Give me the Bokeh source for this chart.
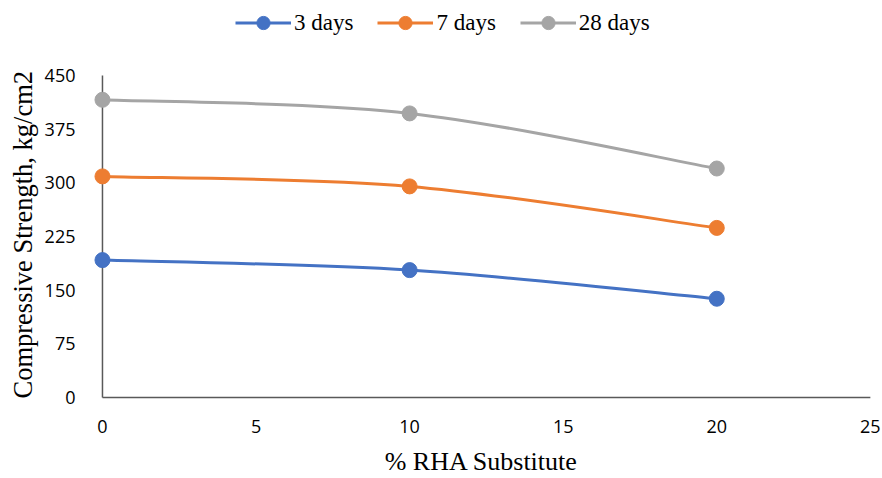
from bokeh.plotting import figure
from bokeh.models import Range1d, Legend, LegendItem, FixedTicker, Title
from bokeh.embed import file_html
from bokeh.resources import INLINE

# data
rha = [0, 10, 20]
days3 = [192, 178, 138]
days7 = [309, 295, 237]
days28 = [416, 397, 320]
series_names = ["3 days", "7 days", "28 days"]
colors = ["#4472C4", "#ED7D31", "#A5A5A5"]
x_ticks = [0, 5, 10, 15, 20, 25]
y_ticks = [0, 75, 150, 225, 300, 375, 450]

p = figure(frame_width=790, frame_height=397, min_border_left=86, min_border_right=6,
           min_border_top=5, min_border_bottom=76,
           x_range=Range1d(-0.52, 25.2), y_range=Range1d(-7, 547.8),
           output_backend="svg", toolbar_location=None)
p.outline_line_color = None
p.grid.visible = False
p.background_fill_color = "white"

for ax in (p.xaxis, p.yaxis):
    ax.axis_line_color = None
    ax.major_tick_line_color = None
    ax.minor_tick_line_color = None
    ax.major_label_text_font = "Open Sans"
    ax.major_label_text_font_size = "18px"
    ax.major_label_text_color = "#000000"
    ax.axis_label_text_font = "Liberation Serif"
    ax.axis_label_text_font_style = "normal"
    ax.axis_label_text_color = "#000000"

p.xaxis.axis_label_text_font_size = "26px"
p.xaxis.ticker = FixedTicker(ticks=x_ticks)
p.yaxis.ticker = FixedTicker(ticks=y_ticks)
p.xaxis.axis_label = "% RHA Substitute"
p.xaxis.major_label_standoff = 11
p.xaxis.axis_label_standoff = 11
p.yaxis.major_label_standoff = 5

ytitle = Title(text="Compressive Strength, kg/cm2", align="left", offset=4,
               text_font="Liberation Serif", text_font_size="26.5px",
               text_font_style="normal", text_color="#000000", standoff=8)
p.add_layout(ytitle, "left")

# axis lines drawn at the data origin
p.segment(x0=[x_ticks[0], x_ticks[0]], y0=[y_ticks[0], y_ticks[0]],
          x1=[x_ticks[-1], x_ticks[0]], y1=[y_ticks[0], y_ticks[-1]],
          line_color="#595959", line_width=1.5)


def smooth_controls(xs, ys):
    n = len(xs)
    x0s, y0s, x1s, y1s, cx0, cy0, cx1, cy1 = [], [], [], [], [], [], [], []
    for i in range(n - 1):
        pm = max(i - 1, 0)
        pp = min(i + 2, n - 1)
        x0s.append(xs[i]); y0s.append(ys[i])
        x1s.append(xs[i + 1]); y1s.append(ys[i + 1])
        cx0.append(xs[i] + (xs[i + 1] - xs[pm]) / 6)
        cy0.append(ys[i] + (ys[i + 1] - ys[pm]) / 6)
        cx1.append(xs[i + 1] - (xs[pp] - xs[i]) / 6)
        cy1.append(ys[i + 1] - (ys[pp] - ys[i]) / 6)
    return dict(x0=x0s, y0=y0s, x1=x1s, y1=y1s, cx0=cx0, cy0=cy0, cx1=cx1, cy1=cy1)


items = []
for name, vals, c in zip(series_names, [days3, days7, days28], colors):
    cp = smooth_controls(rha, vals)
    bz = p.bezier(line_color=c, line_width=3, **cp)
    sc = p.scatter(rha, vals, size=15, fill_color=c, line_color=c, marker="circle")
    items.append(LegendItem(label=name, renderers=[bz, sc]))

legend = Legend(items=items, orientation="horizontal", location=(149, 363),
                label_text_font="Liberation Serif", label_text_font_size="23px",
                label_text_color="#000000", glyph_width=56, glyph_height=33,
                label_standoff=3, spacing=24, padding=0, margin=0,
                background_fill_alpha=0, border_line_color=None)
p.add_layout(legend, "center")

open("out.html", "w").write(file_html(p, INLINE))
